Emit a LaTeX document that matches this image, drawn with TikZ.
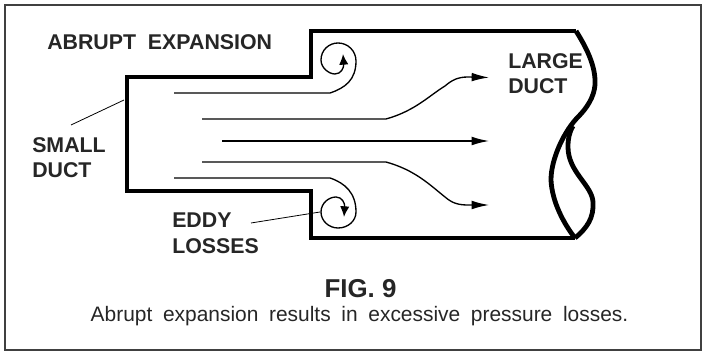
\documentclass[tikz,border=0pt]{standalone}
\usepackage{fontspec}
\setmainfont{Liberation Sans}
\usetikzlibrary{arrows.meta,positioning}

\begin{document}
\begin{tikzpicture}[
  x=0.75pt,y=-0.75pt,>={Latex[length=13pt,width=6.5pt]},
  wall/.style={line width=3.6pt,line join=miter},
  flow/.style={line width=1pt},
  curl/.style={flow,-{Latex[length=8pt,width=7pt]}},
  leader/.style={line width=0.6pt},
  label/.style={font=\bfseries\fontsize{16}{19}\selectfont,align=left,text=black!85,inner sep=0pt},
  every node/.style={inner sep=0pt}
]
  \useasboundingbox (0,0) rectangle (708,352);
  \draw[line width=1.5pt,black!75] (5,5) rectangle (701,350);

  \draw[wall] (576,31) -- (311,31) -- (311,77) -- (127,77) -- (127,191)
    -- (311,191) -- (311,238) -- (575,238);
  \draw[wall] (576,31) .. controls (588,50) and (596,68) .. (595,85)
    .. controls (594,97) and (587,108) .. (578,117)
    .. controls (565,130) and (551,158) .. (551,180)
    .. controls (552,202) and (564,224) .. (575,238);
  \draw[wall] (575,238) .. controls (587,228) and (594,218) .. (593,202)
    .. controls (592,185) and (568,172) .. (568,147)
    .. controls (568,139) and (569,133) .. (573,126);

  \draw[curl] (174,93) -- (330,93) .. controls (345,88) and (356,80) .. (356,61)
    .. controls (356,51) and (348,43) .. (338,43)
    .. controls (329,43) and (321,50) .. (321,60)
    .. controls (321,68) and (329,74) .. (335,74)
    .. controls (341,74) and (344,68) .. (343,54);
  \draw[flow,->] (202,119) -- (386,119) .. controls (415,111) and (430,95) .. (445,86)
    .. controls (452,80) and (458,77) .. (468,77) -- (489,77.5);
  \draw[flow,->] (222,141) -- (489,141);
  \draw[flow,->] (202,162) -- (386,162) .. controls (415,170) and (430,185) .. (445,197)
    .. controls (452,203) and (458,205) .. (468,205) -- (489,205);
  \draw[curl] (174,178) -- (330,178) .. controls (345,183) and (356,193) .. (356,212)
    .. controls (356,221) and (348,228) .. (338,228)
    .. controls (329,228) and (321,221) .. (321,212)
    .. controls (321,203) and (329,197) .. (336,197)
    .. controls (342,197) and (345,203) .. (344,217);

  \node[label,anchor=north west] (expansion) at (47,34) {ABRUPT\ \ EXPANSION};
  \node[label,anchor=north west] (large) at (508,53) {LARGE\\DUCT};
  \node[label,anchor=north west] (small) at (32,137) {SMALL\\DUCT};
  \node[label,anchor=north west] (eddy) at (172,213) {EDDY\\LOSSES};
  \node[font=\bfseries\fontsize{19.4}{22}\selectfont,text=black!85] (fig) at (360.5,289) {FIG. 9};
  \node[font=\fontsize{15.7}{18}\selectfont,text=black!85,anchor=base] (caption) at (359.5,321.5)
    {\spaceskip=8pt Abrupt expansion results in excessive pressure losses.};

  \coordinate (smallwall) at (124,100);
  \coordinate (smalltail) at (71,125);
  \coordinate (eddycurl) at (320,212);
  \coordinate (eddytail) at (251,223);
  \draw[leader] (smalltail) -- (smallwall);
  \draw[leader] (eddytail) -- (eddycurl);
\end{tikzpicture}
\end{document}
